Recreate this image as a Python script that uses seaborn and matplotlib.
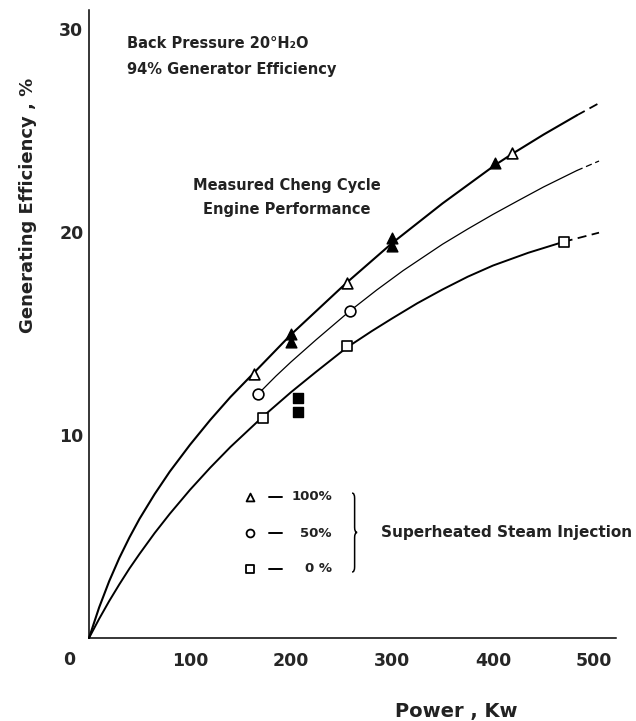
import numpy as np
import pandas as pd
import matplotlib
matplotlib.use("Agg")
import matplotlib.pyplot as plt
import seaborn as sns
from matplotlib.path import Path
from matplotlib.patches import PathPatch

# curves (power kW, generating efficiency %)
pw_100_line = [0, 10, 20, 30, 40, 50, 65, 80, 100, 120, 140, 163, 200,
               255, 300, 350, 402, 419, 450, 483]
eff_100_line = [0, 1.5, 2.8, 3.94, 4.95, 5.87, 7.09, 8.2, 9.52, 10.74, 11.87,
                13.05, 14.95, 17.5, 19.45, 21.41, 23.3, 23.85, 24.8, 25.75]
pw_100_ext = [483, 505]
eff_100_ext = [25.75, 26.35]

pw_50_line = [167, 185, 200, 225, 258, 285, 311, 350, 375, 400, 425, 450, 483]
eff_50_line = [12.0, 12.9, 13.6, 14.7, 16.1, 17.15, 18.1, 19.4, 20.15, 20.87,
               21.55, 22.22, 23.03]
pw_50_ext = [483, 505]
eff_50_ext = [23.03, 23.5]

pw_0_line = [0, 10, 20, 30, 40, 50, 65, 80, 100, 120, 140, 172, 200, 225, 255,
             280, 300, 325, 350, 375, 400, 435, 470]
eff_0_line = [0, 0.94, 1.82, 2.64, 3.42, 4.14, 5.17, 6.12, 7.3, 8.39, 9.41, 10.9,
              12.11, 13.12, 14.3, 15.12, 15.74, 16.49, 17.17, 17.8, 18.35, 18.98,
              19.52]
pw_0_ext = [470, 505]
eff_0_ext = [19.52, 19.97]

# measured points
tri_open_pw = [163, 255, 419]
tri_open_eff = [13.0, 17.5, 23.9]
tri_fill_pw = [200, 200, 300, 300, 402]
tri_fill_eff = [15.0, 14.6, 19.7, 19.3, 23.4]
circ_pw = [167, 258]
circ_eff = [12.0, 16.1]
sq_open_pw = [172, 255, 470]
sq_open_eff = [10.85, 14.4, 19.5]
sq_fill_pw = [207, 207]
sq_fill_eff = [11.8, 11.15]

x_ticks = [100, 200, 300, 400, 500]
y_ticks = [10, 20, 30]
y_minor = [5, 15, 25]
legend_labels = ["100%", "50%", "0 %"]

sns.set_style("white")
plt.rcParams['font.family'] = ['DejaVu Sans']

W, H = 636, 721
fig = plt.figure(figsize=(W / 100, H / 100), dpi=100)
ax = fig.add_axes([89 / W, 83 / H, 527 / W, 628 / H])

# curves
for xs, ys, lw, dashed in [
    (pw_100_line, eff_100_line, 1.5, False), (pw_100_ext, eff_100_ext, 1.3, True),
    (pw_50_line, eff_50_line, 0.9, False), (pw_50_ext, eff_50_ext, 0.9, True),
    (pw_0_line, eff_0_line, 1.4, False), (pw_0_ext, eff_0_ext, 1.3, True),
]:
    df = pd.DataFrame({"pw": xs, "eff": ys})
    sns.lineplot(data=df, x="pw", y="eff", ax=ax, color="black", lw=lw,
                 estimator=None, sort=False,
                 linestyle=(0, (5, 3)) if dashed else "-", clip_on=False)

# markers
sns.scatterplot(x=tri_open_pw, y=tri_open_eff, marker="^", s=60, color="white",
                edgecolor="black", linewidth=1.2, ax=ax, zorder=3)
sns.scatterplot(x=tri_fill_pw, y=tri_fill_eff, marker="^", s=60, color="black",
                edgecolor="black", linewidth=1.0, ax=ax, zorder=3)
sns.scatterplot(x=circ_pw, y=circ_eff, marker="o", s=60, color="white",
                edgecolor="black", linewidth=1.2, ax=ax, zorder=3)
sns.scatterplot(x=sq_open_pw, y=sq_open_eff, marker="s", s=60, color="white",
                edgecolor="black", linewidth=1.2, ax=ax, zorder=3)
sns.scatterplot(x=sq_fill_pw, y=sq_fill_eff, marker="s", s=45, color="black",
                edgecolor="black", linewidth=1.0, ax=ax, zorder=3)

# axes
ax.set_xlim(0, 521.8)
ax.set_ylim(0, 30.94)
ax.set_xticks(x_ticks)
ax.set_xticklabels([str(t) for t in x_ticks])
ax.set_yticks(y_ticks)
ax.set_yticklabels([str(t) for t in y_ticks])
ax.set_yticks(y_minor, minor=True)
ax.tick_params(axis="x", direction="in", length=6, width=1.1, pad=10, labelsize=12.5)
ax.tick_params(axis="y", which="major", direction="in", length=6, width=1.1, pad=4, labelsize=12.5)
ax.tick_params(axis="y", which="minor", direction="in", length=3, width=1.0)
for lab in ax.get_xticklabels() + ax.get_yticklabels():
    lab.set_fontweight("bold")
sns.despine(ax=ax)
for sp in ["left", "bottom"]:
    ax.spines[sp].set_linewidth(1.1)
    ax.spines[sp].set_color("black")
ax.set_xlabel("")
ax.set_ylabel("")
ax.text(-19.8, -1.08, "0", ha="center", va="center", fontsize=12.5,
        fontweight="bold", clip_on=False)

fig.text(28 / W, 1 - 205 / H, "Generating Efficiency , %", rotation=90,
         ha="center", va="center", fontsize=13, fontweight="bold", color="#222222")
fig.text(456 / W, 1 - 711 / H, "Power , Kw", ha="center", va="center",
         fontsize=14, fontweight="bold", color="#222222")

# annotations
txt = dict(fontsize=10.5, fontweight="bold", color="#222222")
ax.text(37.6, 29.27, "Back Pressure 20°H₂O", ha="left", va="center", **txt)
ax.text(37.6, 28.03, "94% Generator Efficiency", ha="left", va="center", **txt)
ax.text(196, 22.27, "Measured Cheng Cycle", ha="center", va="center", **txt)
ax.text(196, 21.1, "Engine Performance", ha="center", va="center", **txt)

# legend block
leg_txt = dict(fontsize=9.5, fontweight="bold", color="#222222")
leg_y = [6.95, 5.17, 3.40]
for yy, mk, lab in zip(leg_y, ["^", "o", "s"], legend_labels):
    ax.scatter([159.4], [yy], marker=mk, s=32, facecolor="white",
               edgecolor="black", linewidth=1.3, zorder=3)
    ax.plot([178, 191], [yy, yy], color="black", lw=1.4)
    ax.text(240.6, yy, lab, ha="right", va="center", **leg_txt)

x0, xm, x1 = 260.5, 263.0, 265.5
ytop, ybot, ymid, r = 7.14, 3.25, 5.2, 0.25
verts = [(x0, ytop), (xm, ytop), (xm, ytop - r), (xm, ymid + r),
         (xm, ymid), (x1, ymid), (xm, ymid), (xm, ymid - r),
         (xm, ybot + r), (xm, ybot), (x0, ybot)]
codes = [Path.MOVETO, Path.CURVE3, Path.CURVE3, Path.LINETO,
         Path.CURVE3, Path.CURVE3, Path.CURVE3, Path.CURVE3,
         Path.LINETO, Path.CURVE3, Path.CURVE3]
ax.add_patch(PathPatch(Path(verts, codes), facecolor="none", edgecolor="black", lw=1.1))
ax.text(289, 5.22, "Superheated Steam Injection", ha="left", va="center",
        clip_on=False, fontsize=11, fontweight="bold", color="#222222")

fig.savefig("out.png", dpi=100)
